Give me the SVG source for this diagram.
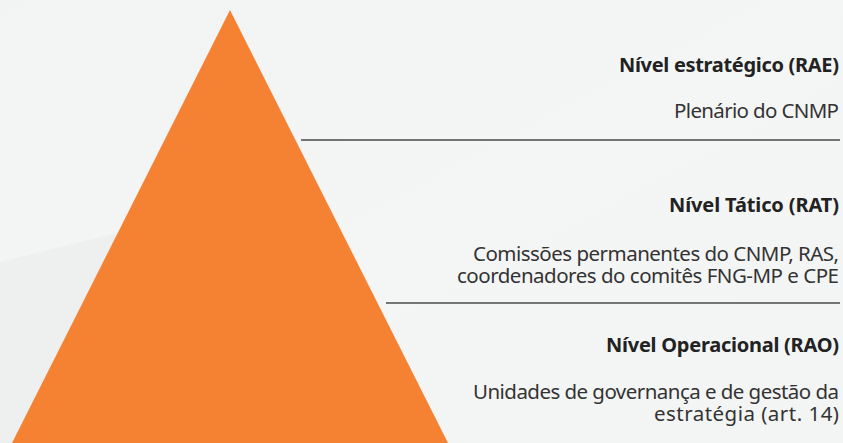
<svg xmlns="http://www.w3.org/2000/svg" width="843" height="443" viewBox="0 0 843 443">
  <defs>
    <linearGradient id="bg" x1="0" y1="0" x2="1" y2="1">
      <stop offset="0" stop-color="#f2f3f3"/>
      <stop offset="0.5" stop-color="#f4f5f5"/>
      <stop offset="1" stop-color="#f3f4f4"/>
    </linearGradient>
    <style>
      .title { font-family: "Noto Sans", "Open Sans", "Liberation Sans", sans-serif; font-size: 20px; font-weight: 700; fill: #222222; text-anchor: end; }
      .desc { font-family: "Noto Sans", "Open Sans", "Liberation Sans", sans-serif; font-size: 20.5px; font-weight: 400; fill: #333333; text-anchor: end; }
      .sep { stroke: #4a4a4a; stroke-width: 1.4; fill: none; }
    </style>
  </defs>
  <rect x="0" y="0" width="843" height="443" fill="url(#bg)"/>
  <polygon points="0,262 230,205 230,443 0,443" fill="#eceeed" opacity="0.8"/>

  <g id="pyramid">
    <polygon points="230,10 12,443 448,443" fill="#f58233"/>
  </g>

  <g id="connectors">
    <line class="sep" x1="301" y1="140" x2="840" y2="140"/>
    <line class="sep" x1="386" y1="303" x2="840" y2="303"/>
  </g>

  <g id="level-strategic">
    <text class="title" x="839" y="72" textLength="220">Nível estratégico (RAE)</text>
    <text class="desc" x="839" y="118" textLength="165">Plenário do CNMP</text>
  </g>

  <g id="level-tactical">
    <text class="title" x="839" y="212" textLength="170">Nível Tático (RAT)</text>
    <text class="desc"><tspan x="839" y="261" textLength="366">Comissões permanentes do CNMP, RAS,</tspan><tspan x="839" y="283" textLength="382">coordenadores do comitês FNG-MP e CPE</tspan></text>
  </g>

  <g id="level-operational">
    <text class="title" x="839" y="352" textLength="233">Nível Operacional (RAO)</text>
    <text class="desc"><tspan x="839" y="399" textLength="366">Unidades de governança e de gestão da</tspan><tspan x="839" y="421" textLength="185">estratégia (art. 14)</tspan></text>
  </g>
</svg>
